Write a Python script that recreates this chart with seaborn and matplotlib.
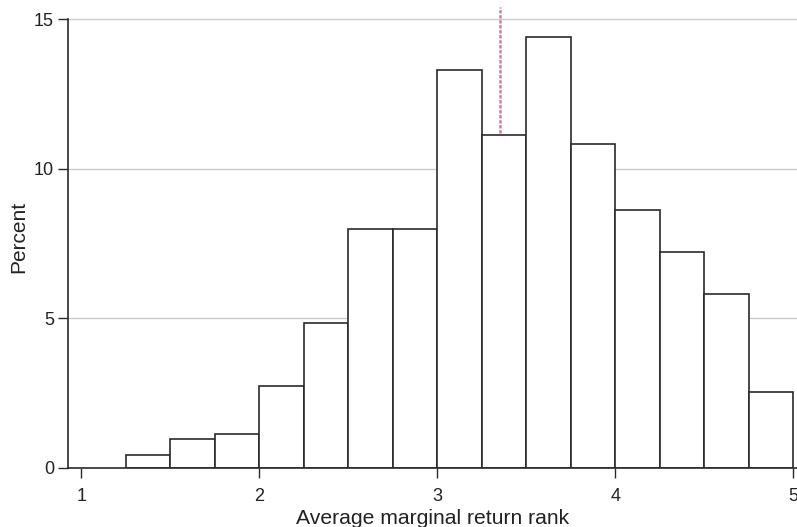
import numpy as np
import seaborn as sns
import matplotlib.pyplot as plt

# histogram bins (rank) and percent in each bin
bin_edges = [1.25, 1.5, 1.75, 2.0, 2.25, 2.5, 2.75, 3.0, 3.25, 3.5, 3.75, 4.0, 4.25, 4.5, 4.75, 5.0]
percent = [0.43, 0.96, 1.11, 2.74, 4.84, 7.98, 7.98, 13.31, 11.14, 14.42, 10.84, 8.62, 7.21, 5.81, 2.53]
mean_rank = 3.35
x_ticks = [1, 2, 3, 4, 5]
y_ticks = [0, 5, 10, 15]

bin_mid = [(a + b) / 2 for a, b in zip(bin_edges[:-1], bin_edges[1:])]

sns.set_style("white")
plt.rcParams["font.family"] = ["Liberation Sans", "DejaVu Sans"]

fig = plt.figure(figsize=(7.97, 5.27), dpi=100)
ax = fig.add_axes([68 / 797, 59.5 / 527, 1 - 68 / 797, (467.5 - 7) / 527])

for y in y_ticks[1:]:
    ax.axhline(y, color="#cccccc", linewidth=1.0, zorder=0)
ax.axvline(mean_rank, color="#d677a6", linestyle=(0, (1.33, 0.67)), linewidth=1.8, zorder=1)

sns.histplot(x=bin_mid, weights=percent, bins=bin_edges, stat="count",
             color="white", edgecolor="#2a2a2a", linewidth=1.2, alpha=1, ax=ax, zorder=2)

ax.set_xlim(0.925, 5.02)
ax.set_ylim(0, 15.41)
ax.set_xticks(x_ticks)
ax.set_yticks(y_ticks)
ax.tick_params(axis="both", bottom=True, left=True, direction="out", length=7, width=1,
               labelsize=13, color="#2a2a2a", labelcolor="#222222", pad=3)
ax.tick_params(axis="x", pad=8)
for s in ["top", "right"]:
    ax.spines[s].set_visible(False)
for s in ["left", "bottom"]:
    ax.spines[s].set_color("#2a2a2a")
    ax.spines[s].set_linewidth(1.2)
ax.spines["left"].set_bounds(0, 15)
ax.set_xlabel("Average marginal return rank", fontsize=15.2, labelpad=3, color="#222222")
ax.set_ylabel("Percent", fontsize=15, labelpad=4, color="#222222")

fig.savefig("out.png", dpi=100)
